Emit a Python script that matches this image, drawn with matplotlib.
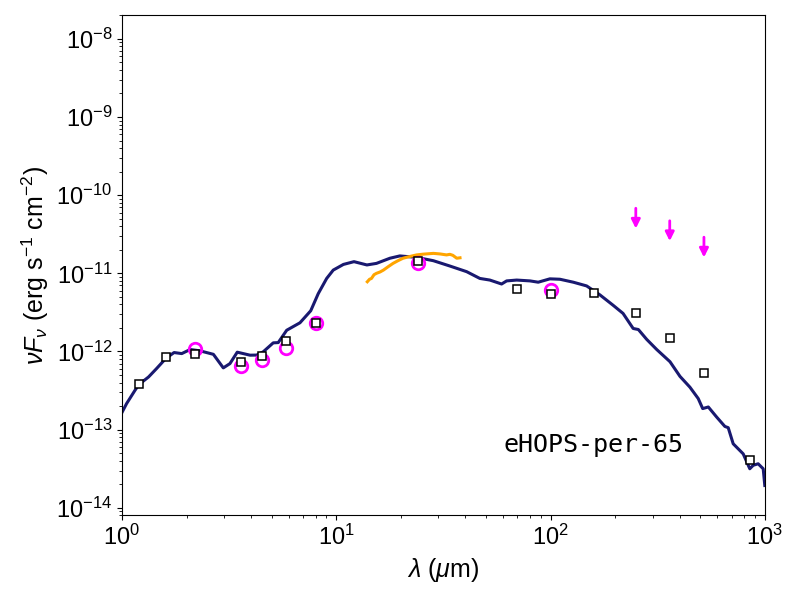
import matplotlib
matplotlib.use("Agg")
import matplotlib.pyplot as plt
import numpy as np

plt.rcParams['font.family'] = ['Liberation Sans', 'DejaVu Sans']
plt.rcParams['mathtext.fontset'] = 'custom'
plt.rcParams['mathtext.rm'] = 'Liberation Sans'
plt.rcParams['mathtext.it'] = 'Liberation Sans:italic'
plt.rcParams['mathtext.bf'] = 'Liberation Sans:bold'

# Model SED
model_wl = [1.00, 1.05, 1.15, 1.20, 1.33, 1.45, 1.60, 1.75, 1.90, 2.08, 2.31, 2.67,
            2.97, 3.19, 3.45, 3.96, 4.25, 4.56, 5.08, 5.36, 5.87, 6.77, 7.60, 8.24,
            9.02, 9.68, 10.8, 12.1, 13.9, 15.4, 17.8, 19.8, 23.7, 28.4, 33.9, 40.6,
            46.8, 52.1, 59.1, 62.4, 69.5, 80.2, 87.6, 99.3, 110.6, 127.7, 147.4, 170,
            196, 218, 243, 257, 281, 313, 361, 402, 447, 489, 513, 545, 596, 651, 675,
            712, 793, 851, 883, 931, 983, 1000]
model_flux = [1.66e-13, 2.15e-13, 3.19e-13, 3.78e-13, 4.72e-13, 6.05e-13, 8.13e-13, 9.7e-13,
              9.4e-13, 1.06e-12, 1.02e-12, 9.2e-13, 6.17e-13, 7.0e-13, 9.8e-13, 8.97e-13,
              9.0e-13, 9.9e-13, 1.29e-12, 1.30e-12, 1.87e-12, 2.33e-12, 3.32e-12, 5.5e-12,
              8.6e-12, 1.10e-11, 1.30e-11, 1.41e-11, 1.28e-11, 1.34e-11, 1.56e-11, 1.67e-11,
              1.60e-11, 1.45e-11, 1.24e-11, 1.05e-11, 8.6e-12, 8.2e-12, 7.3e-12, 8.0e-12,
              8.2e-12, 8.0e-12, 7.7e-12, 8.5e-12, 8.4e-12, 7.7e-12, 6.9e-12, 5.3e-12,
              3.9e-12, 3.07e-12, 1.97e-12, 1.91e-12, 1.43e-12, 1.06e-12, 7.4e-13, 4.8e-13,
              3.5e-13, 2.5e-13, 1.86e-13, 1.95e-13, 1.45e-13, 1.10e-13, 1.06e-13, 6.6e-14,
              4.9e-14, 3.16e-14, 3.5e-14, 3.66e-14, 3.16e-14, 1.93e-14]

# Spitzer IRS spectrum
irs_wl = [13.96, 14.3, 14.6, 15.0, 15.4, 16.0, 16.6, 17.5, 18.4, 19.4, 20.5, 22.0, 23.7,
          25.5, 28.4, 30.5, 32.7, 33.9, 35.0, 36.5, 37.8]
irs_flux = [7.8e-12, 8.4e-12, 8.6e-12, 9.6e-12, 1.0e-11, 1.04e-11, 1.1e-11, 1.22e-11,
            1.34e-11, 1.45e-11, 1.56e-11, 1.64e-11, 1.72e-11, 1.76e-11, 1.80e-11, 1.77e-11,
            1.72e-11, 1.75e-11, 1.70e-11, 1.56e-11, 1.58e-11]

# Photometry (squares)
phot_wl = [1.2, 1.6, 2.2, 3.6, 4.5, 5.8, 8.0, 24, 70, 100, 160, 250, 360, 520, 850]
phot_flux = [3.8e-13, 8.4e-13, 9.3e-13, 7.4e-13, 8.8e-13, 1.35e-12, 2.3e-12, 1.45e-11,
             6.3e-12, 5.5e-12, 5.6e-12, 3.1e-12, 1.48e-12, 5.3e-13, 4.1e-14]

# Photometry (circles)
circ_wl = [2.2, 3.6, 4.5, 5.8, 8.0, 24, 100]
circ_flux = [1.07e-12, 6.6e-13, 7.8e-13, 1.1e-12, 2.3e-12, 1.35e-11, 6.2e-12]

# Upper limits
ul_wl = [250, 360, 520]
ul_flux = [6.8e-11, 4.7e-11, 2.9e-11]

label_text = "eHOPS-per-65"

fig = plt.figure(figsize=(8, 6), dpi=100)
ax = fig.add_axes([0.1525, 0.141, 0.8035, 0.8335])

ax.plot(model_wl, model_flux, color='#191970', lw=2.2, zorder=2)
ax.plot(irs_wl, irs_flux, color='orange', lw=2.2, zorder=3)
ax.plot(circ_wl, circ_flux, linestyle='none', marker='o', ms=9, mfc='none',
        mec='magenta', mew=2, zorder=4)
ax.plot(phot_wl, phot_flux, linestyle='none', marker='s', ms=5.8, mfc='white',
        mec='black', mew=1.1, zorder=5)
for w, f in zip(ul_wl, ul_flux):
    ax.annotate('', xy=(w, f * 0.55), xytext=(w, f),
                arrowprops=dict(arrowstyle='-|>', color='magenta', lw=2,
                                mutation_scale=13, shrinkA=0, shrinkB=0))

ax.set_xscale('log')
ax.set_yscale('log')
ax.set_xlim(1, 1000)
ax.set_ylim(8e-15, 2e-8)
ax.tick_params(labelsize=17)
ax.set_xlabel(r'$\lambda$ ($\mu$m)', fontsize=18)
ax.set_ylabel(r'$\nu F_\nu$ (erg s$^{-1}$ cm$^{-2}$)', fontsize=18)
ax.text(0.593, 0.127, label_text, transform=ax.transAxes, fontsize=18,
        family='DejaVu Sans Mono', ha='left', va='baseline')

fig.savefig('out.png', dpi=100)
